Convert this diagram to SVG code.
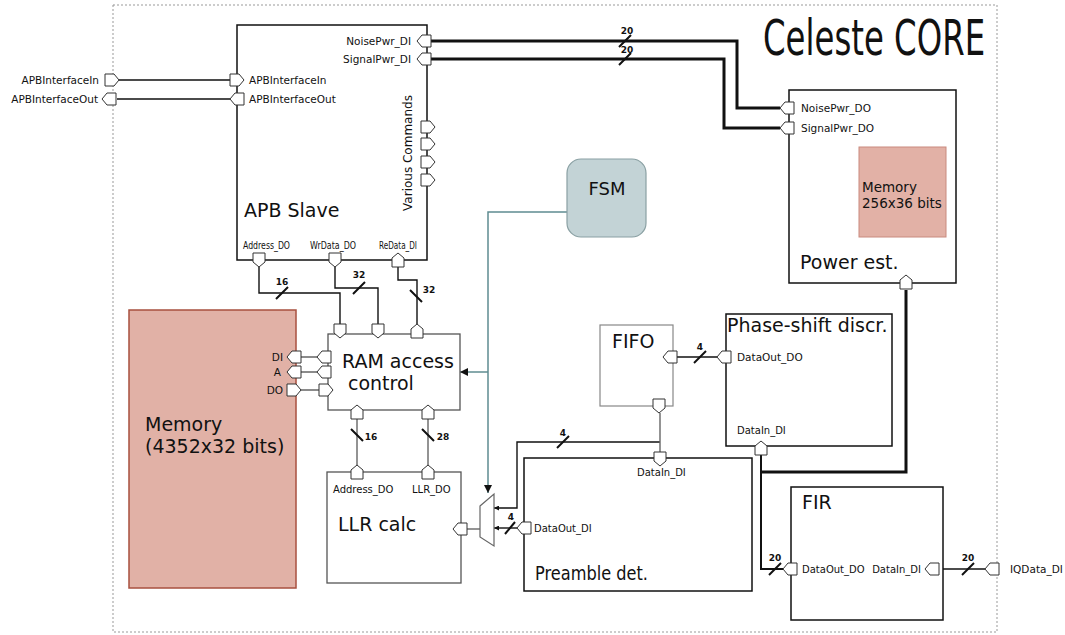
<svg xmlns="http://www.w3.org/2000/svg" width="1065" height="635" viewBox="0 0 1065 635">
<style>
text{font-family:"DejaVu Sans","Liberation Sans",sans-serif;fill:#111}
.box{fill:#fff;stroke:#111;stroke-width:1.5}
.gbox{fill:#fff;stroke:#555;stroke-width:1.3}
.port{fill:#fff;stroke:#333;stroke-width:1}
.w{fill:none;stroke:#111;stroke-width:1.4}
.g{fill:none;stroke:#666;stroke-width:1.4}
.thick{fill:none;stroke:#111;stroke-width:3}
.teal{fill:none;stroke:#5f8c91;stroke-width:1.5}
.sl{stroke:#111;stroke-width:2}
.t{font-size:19px}
.s{font-size:10.5px}
.n{font-size:9px;font-weight:bold}
</style>
<defs>
<marker id="ah" viewBox="0 0 10 10" refX="10" refY="5" markerWidth="10" markerHeight="8" markerUnits="userSpaceOnUse" orient="auto"><path d="M0,0 L10,5 L0,10 z" fill="#111"/></marker>
<marker id="as" viewBox="0 0 10 10" refX="10" refY="5" markerWidth="5" markerHeight="5" markerUnits="userSpaceOnUse" orient="auto"><path d="M0,0 L10,5 L0,10 z" fill="#111"/></marker>
</defs>
<rect x="113" y="5" width="884" height="627" fill="none" stroke="#999" stroke-width="1" stroke-dasharray="2,2"/>
<text font-size="50" transform="translate(763,55) scale(0.647,1)">Celeste CORE</text>

<g id="connectors">
<path class="w" d="M119,80 H230 M117,99 H230"/>
<path class="thick" d="M431,41 H737 V108 H780 M431,59 H724 V128 H780"/>
<path class="sl" d="M619,47 L631,35 M619,65 L631,53"/>
<text class="n" x="627" y="34" text-anchor="middle">20</text>
<text class="n" x="627" y="53" text-anchor="middle">20</text>
<path class="w" d="M259,267 V293 H340 V324 M335,267 V288 H378 V324 M398,267 V280 H417 V324"/>
<path class="sl" d="M276,299 L288,287 M353,294 L365,282 M410,290 L422,302"/>
<text class="n" x="282" y="285" text-anchor="middle">16</text>
<text class="n" x="359" y="278" text-anchor="middle">32</text>
<text class="n" x="429" y="293" text-anchor="middle">32</text>
<path class="g" d="M301,357 H317 M301,372 H317 M301,390 H319"/>
<path class="g" d="M357,419 V465 M428,419 V465"/>
<path class="sl" d="M351,429 L363,441 M422,429 L434,441"/>
<text class="n" x="371" y="440" text-anchor="middle">16</text>
<text class="n" x="443" y="440" text-anchor="middle">28</text>
<path class="g" d="M467,529 H480"/>
<path class="teal" d="M567,212 H488 V493" marker-end="url(#ah)"/>
<path class="teal" d="M488,372 H460" marker-end="url(#ah)"/>
<path class="w" d="M517,528 H494" marker-end="url(#as)"/>
<path class="sl" d="M505,534 L515,522"/>
<text class="n" x="511" y="520" text-anchor="middle">4</text>
<path class="w" d="M660,442 H517 V508 H494" marker-end="url(#as)"/>
<path class="sl" d="M557,448 L569,436"/>
<text class="n" x="563" y="436" text-anchor="middle">4</text>
<path class="g" d="M660,413 V452"/>
<path class="w" d="M677,357 H717"/>
<path class="sl" d="M694,363 L706,351"/>
<text class="n" x="700" y="350" text-anchor="middle">4</text>
<path class="thick" d="M906,290 V472 H761"/>
<path class="w" d="M761,455 V569 H783" style="stroke-width:2"/>
<path class="sl" d="M769,575 L781,563"/>
<text class="n" x="775" y="561" text-anchor="middle">20</text>
<path class="w" d="M939,569 H985"/>
<path class="sl" d="M962,575 L974,563"/>
<text class="n" x="968" y="561" text-anchor="middle">20</text>
</g>

<g id="ext-ports">
<path class="port" d="M105,74 h9 l5,6 l-5,6 h-9 z"/>
<path class="port" d="M102,99 l5,-6 h9 v12 h-9 z"/>
<text class="s" x="99" y="84" text-anchor="end">APBInterfaceIn</text>
<text class="s" x="98" y="103" text-anchor="end">APBInterfaceOut</text>
<path class="port" d="M985,569 l5,-6 h9 v12 h-9 z"/>
<text class="s" x="1010" y="573">IQData_DI</text>
</g>

<g id="apb-slave">
<rect class="box" x="237" y="25" width="190" height="235"/>
<path class="port" d="M230,74 h9 l5,6 l-5,6 h-9 z"/>
<path class="port" d="M230,99 l5,-6 h9 v12 h-9 z"/>
<text class="s" x="249" y="84">APBInterfaceIn</text>
<text class="s" x="249" y="103">APBInterfaceOut</text>
<path class="port" d="M417,41 l5,-6 h9 v12 h-9 z"/>
<path class="port" d="M417,59 l5,-6 h9 v12 h-9 z"/>
<text class="s" x="411" y="45" text-anchor="end">NoisePwr_DI</text>
<text class="s" x="411" y="63" text-anchor="end">SignalPwr_DI</text>
<path class="port" d="M421,121 h9 l5,6 l-5,6 h-9 z"/>
<path class="port" d="M421,138 h9 l5,6 l-5,6 h-9 z"/>
<path class="port" d="M421,156 h9 l5,6 l-5,6 h-9 z"/>
<path class="port" d="M421,174 h9 l5,6 l-5,6 h-9 z"/>
<text font-size="12" transform="translate(412,153) rotate(-90)" text-anchor="middle">Various Commands</text>
<text class="t" x="244" y="217">APB Slave</text>
<path class="port" d="M253,253 h12 v9 l-6,5 l-6,-5 z"/>
<path class="port" d="M329,253 h12 v9 l-6,5 l-6,-5 z"/>
<path class="port" d="M398,253 l6,5 v9 h-12 v-9 z"/>
<text font-size="10" x="243" y="249" textLength="47" lengthAdjust="spacingAndGlyphs">Address_DO</text>
<text font-size="10" x="310" y="249" textLength="46" lengthAdjust="spacingAndGlyphs">WrData_DO</text>
<text font-size="10" x="379" y="249" textLength="38" lengthAdjust="spacingAndGlyphs">ReData_DI</text>
</g>

<g id="power-est">
<rect class="box" x="789" y="90" width="167" height="193"/>
<path class="port" d="M780,108 l5,-6 h9 v12 h-9 z"/>
<path class="port" d="M780,128 l5,-6 h9 v12 h-9 z"/>
<text class="s" x="801" y="112">NoisePwr_DO</text>
<text class="s" x="801" y="132">SignalPwr_DO</text>
<rect x="859" y="147" width="87" height="90" fill="#e2b1a6" stroke="#c98a7e" stroke-width="1"/>
<text font-size="13.5" x="862" y="192">Memory</text>
<text font-size="13.5" x="862" y="208">256x36 bits</text>
<text class="t" x="800" y="269">Power est.</text>
<path class="port" d="M906,275 l6,5 v9 h-12 v-9 z"/>
</g>

<g id="fsm">
<rect x="567" y="159" width="79" height="78" rx="14" fill="#c3d3d6" stroke="#8aa0a3" stroke-width="1.2"/>
<text font-size="18" x="607" y="195" text-anchor="middle">FSM</text>
</g>

<g id="memory">
<rect x="129" y="310" width="167" height="278" fill="#e1b1a6" stroke="#a8503f" stroke-width="1.5"/>
<text class="t" x="145" y="431">Memory</text>
<text class="t" x="145" y="453">(4352x32 bits)</text>
<path class="port" d="M287,357 l5,-6 h9 v12 h-9 z"/>
<path class="port" d="M287,372 l5,-6 h9 v12 h-9 z"/>
<path class="port" d="M287,384 h9 l5,6 l-5,6 h-9 z"/>
<text font-size="10.5" x="283" y="361" text-anchor="end">DI</text>
<text font-size="10.5" x="281" y="376" text-anchor="end">A</text>
<text font-size="10.5" x="283" y="394" text-anchor="end">DO</text>
</g>

<g id="ram-access">
<rect class="gbox" x="328" y="334" width="132" height="76"/>
<path class="port" d="M334,324 h12 v9 l-6,5 l-6,-5 z"/>
<path class="port" d="M372,324 h12 v9 l-6,5 l-6,-5 z"/>
<path class="port" d="M417,324 l6,5 v9 h-12 v-9 z"/>
<path class="port" d="M317,357 l5,-6 h9 v12 h-9 z"/>
<path class="port" d="M317,372 l5,-6 h9 v12 h-9 z"/>
<path class="port" d="M319,384 h9 l5,6 l-5,6 h-9 z"/>
<path class="port" d="M357,405 l6,5 v9 h-12 v-9 z"/>
<path class="port" d="M428,405 l6,5 v9 h-12 v-9 z"/>
<text class="t" x="342" y="368">RAM access</text>
<text class="t" x="348" y="390">control</text>
</g>

<g id="llr-calc">
<rect class="gbox" x="327" y="472" width="134" height="111"/>
<path class="port" d="M357,465 l6,5 v9 h-12 v-9 z"/>
<path class="port" d="M428,465 l6,5 v9 h-12 v-9 z"/>
<text font-size="10" x="333" y="493">Address_DO</text>
<text font-size="10" x="412" y="493">LLR_DO</text>
<text class="t" x="338" y="531">LLR calc</text>
<path class="port" d="M453,529 l5,-6 h9 v12 h-9 z"/>
</g>

<g id="mux">
<path d="M480,506 L494,494 L494,546 L480,537 Z" fill="#fff" stroke="#666" stroke-width="1.2"/>
</g>

<g id="fifo">
<rect x="600" y="325" width="73" height="81" fill="#fff" stroke="#888" stroke-width="1.2"/>
<text class="t" x="612" y="348">FIFO</text>
<path class="port" d="M663,357 l5,-6 h9 v12 h-9 z"/>
<path class="port" d="M653,399 h12 v9 l-6,5 l-6,-5 z"/>
</g>

<g id="phase-shift">
<rect class="box" x="726" y="314" width="166" height="132"/>
<text class="t" x="727" y="332">Phase-shift discr.</text>
<path class="port" d="M717,357 l5,-6 h9 v12 h-9 z"/>
<text class="s" x="737" y="361">DataOut_DO</text>
<text font-size="10" x="737" y="434">DataIn_DI</text>
<path class="port" d="M761,441 l6,5 v9 h-12 v-9 z"/>
</g>

<g id="preamble">
<rect class="box" x="524" y="458" width="228" height="133"/>
<path class="port" d="M654,452 h12 v9 l-6,5 l-6,-5 z"/>
<text font-size="10" x="637" y="476">DataIn_DI</text>
<path class="port" d="M517,528 l5,-6 h9 v12 h-9 z"/>
<text font-size="10" x="534" y="532">DataOut_DI</text>
<text class="t" x="535" y="580" textLength="113" lengthAdjust="spacingAndGlyphs">Preamble det.</text>
</g>

<g id="fir">
<rect class="box" x="791" y="487" width="152" height="133"/>
<text class="t" x="802" y="509">FIR</text>
<path class="port" d="M783,569 l5,-6 h9 v12 h-9 z"/>
<text font-size="10" x="802" y="573">DataOut_DO</text>
<path class="port" d="M925,569 l5,-6 h9 v12 h-9 z"/>
<text font-size="10" x="921" y="573" text-anchor="end">DataIn_DI</text>
</g>
</svg>
